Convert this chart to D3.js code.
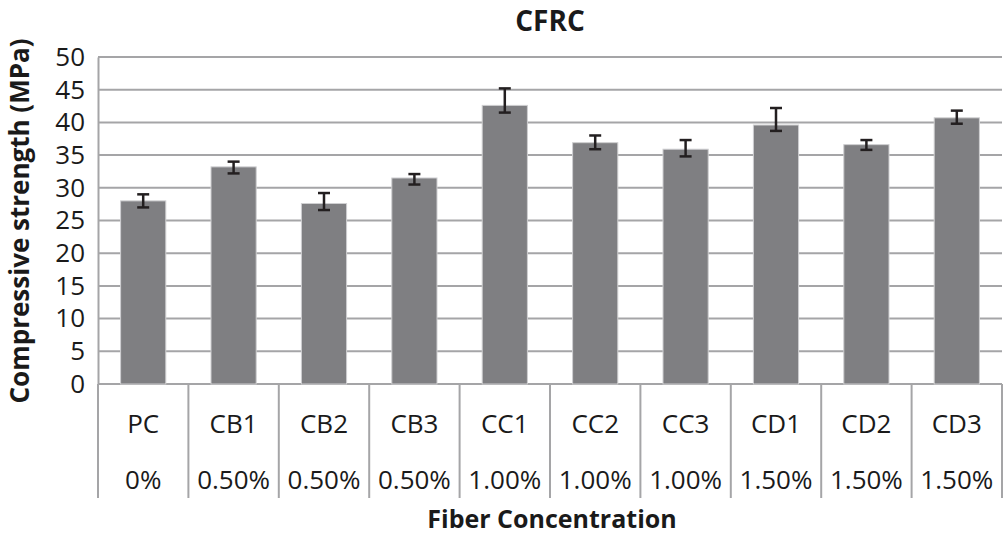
<!DOCTYPE html>
<html>
<head>
<meta charset="utf-8">
<script src="https://cdn.jsdelivr.net/npm/d3@7"></script>
<style>
  body { margin: 0; background: #fff; }
  text { font-family: "Open Sans", "Noto Sans", sans-serif; fill: #1a1a1a; }
</style>
</head>
<body>
<div id="chart"></div>
<script>
const categories = ['PC', 'CB1', 'CB2', 'CB3', 'CC1', 'CC2', 'CC3', 'CD1', 'CD2', 'CD3'];
const concentrations = ['0%', '0.50%', '0.50%', '0.50%', '1.00%', '1.00%', '1.00%', '1.50%', '1.50%', '1.50%'];
const strength = [28.0, 33.2, 27.6, 31.5, 42.6, 36.9, 35.9, 39.6, 36.6, 40.7];
const errLow = [27.0, 32.2, 26.6, 30.5, 41.5, 35.9, 34.8, 38.7, 35.8, 39.8];
const errHigh = [29.0, 34.0, 29.2, 32.1, 45.2, 38.0, 37.3, 42.2, 37.3, 41.8];
const yTicks = [0, 5, 10, 15, 20, 25, 30, 35, 40, 45, 50];

const dimension = {
  width: 1006,
  height: 536,
  margin: { top: 57, right: 4, bottom: 152, left: 98 }
};

const drawChart = () => {
  const data = categories.map((c, i) => ({
    cat: c, conc: concentrations[i], v: strength[i], lo: errLow[i], hi: errHigh[i]
  }));

  const svg = d3.select('#chart')
    .append('svg')
    .attr('width', dimension.width)
    .attr('height', dimension.height);

  const m = dimension.margin;
  const innerW = dimension.width - m.left - m.right;
  const innerH = dimension.height - m.top - m.bottom;

  // ctr === container
  const ctr = svg.append('g')
    .attr('transform', `translate(${m.left}, ${m.top})`);

  const xScale = d3.scaleBand()
    .domain(categories)
    .range([0, innerW])
    .paddingInner(0.5)
    .paddingOuter(0.25);

  const yScale = d3.scaleLinear()
    .domain([0, 50])
    .range([innerH, 0]);

  // gridlines
  ctr.append('g')
    .selectAll('line')
    .data(yTicks)
    .join('line')
    .attr('x1', 0)
    .attr('x2', innerW)
    .attr('y1', d => yScale(d))
    .attr('y2', d => yScale(d))
    .attr('stroke', '#a5a5a7')
    .attr('stroke-width', 2);

  // y axis
  const yAxis = d3.axisLeft(yScale).tickValues(yTicks).tickSize(0).tickPadding(13);
  const yg = ctr.append('g').call(yAxis);
  yg.select('.domain').attr('stroke', '#a5a5a7').attr('stroke-width', 2);
  yg.selectAll('text')
    .attr('font-size', 26)
    .attr('fill', '#1a1a1a')
    .style('font-family', '"Open Sans", "Noto Sans", sans-serif');

  // left axis continues into category table
  const tableH = 114;
  const edges = d3.range(categories.length + 1).map(i => i * xScale.step());
  ctr.append('g')
    .selectAll('line')
    .data(edges)
    .join('line')
    .attr('x1', d => d)
    .attr('x2', d => d)
    .attr('y1', innerH)
    .attr('y2', innerH + tableH)
    .attr('stroke', '#a5a5a7')
    .attr('stroke-width', 2);

  // bars
  ctr.selectAll('rect.bar')
    .data(data)
    .join('rect')
    .attr('class', 'bar')
    .attr('x', d => xScale(d.cat))
    .attr('y', d => yScale(d.v))
    .attr('width', xScale.bandwidth())
    .attr('height', d => innerH - yScale(d.v))
    .attr('fill', '#7f7f82')
    .attr('stroke', '#cfcfd1')
    .attr('stroke-width', 1);

  // error bars
  const eb = ctr.append('g')
    .selectAll('g')
    .data(data)
    .join('g')
    .attr('transform', d => `translate(${xScale(d.cat) + xScale.bandwidth() / 2}, 0)`)
    .attr('stroke', '#231f20')
    .attr('stroke-width', 2.5);
  eb.append('line')
    .attr('y1', d => yScale(d.lo))
    .attr('y2', d => yScale(d.hi));
  eb.append('line')
    .attr('x1', -6).attr('x2', 6)
    .attr('y1', d => yScale(d.lo)).attr('y2', d => yScale(d.lo));
  eb.append('line')
    .attr('x1', -6).attr('x2', 6)
    .attr('y1', d => yScale(d.hi)).attr('y2', d => yScale(d.hi));

  // category labels, two rows
  const center = d => xScale(d.cat) + xScale.bandwidth() / 2;
  ctr.append('g')
    .selectAll('text')
    .data(data)
    .join('text')
    .attr('x', center)
    .attr('y', innerH + 49)
    .attr('text-anchor', 'middle')
    .attr('font-size', 26)
    .text(d => d.cat);
  ctr.append('g')
    .selectAll('text')
    .data(data)
    .join('text')
    .attr('x', center)
    .attr('y', innerH + 105)
    .attr('text-anchor', 'middle')
    .attr('font-size', 26)
    .text(d => d.conc);

  // titles
  svg.append('text')
    .attr('x', m.left + innerW / 2)
    .attr('y', 31)
    .attr('text-anchor', 'middle')
    .attr('font-size', 28)
    .attr('font-weight', 'bold')
    .text('CFRC');

  svg.append('text')
    .attr('x', m.left + innerW / 2 + 2)
    .attr('y', 528)
    .attr('text-anchor', 'middle')
    .attr('font-size', 25)
    .attr('font-weight', 'bold')
    .text('Fiber Concentration');

  svg.append('text')
    .attr('transform', `translate(29, 221) rotate(-90)`)
    .attr('text-anchor', 'middle')
    .attr('font-size', 26)
    .attr('font-weight', 'bold')
    .text('Compressive strength (MPa)');
}

drawChart()
</script>
</body>
</html>
